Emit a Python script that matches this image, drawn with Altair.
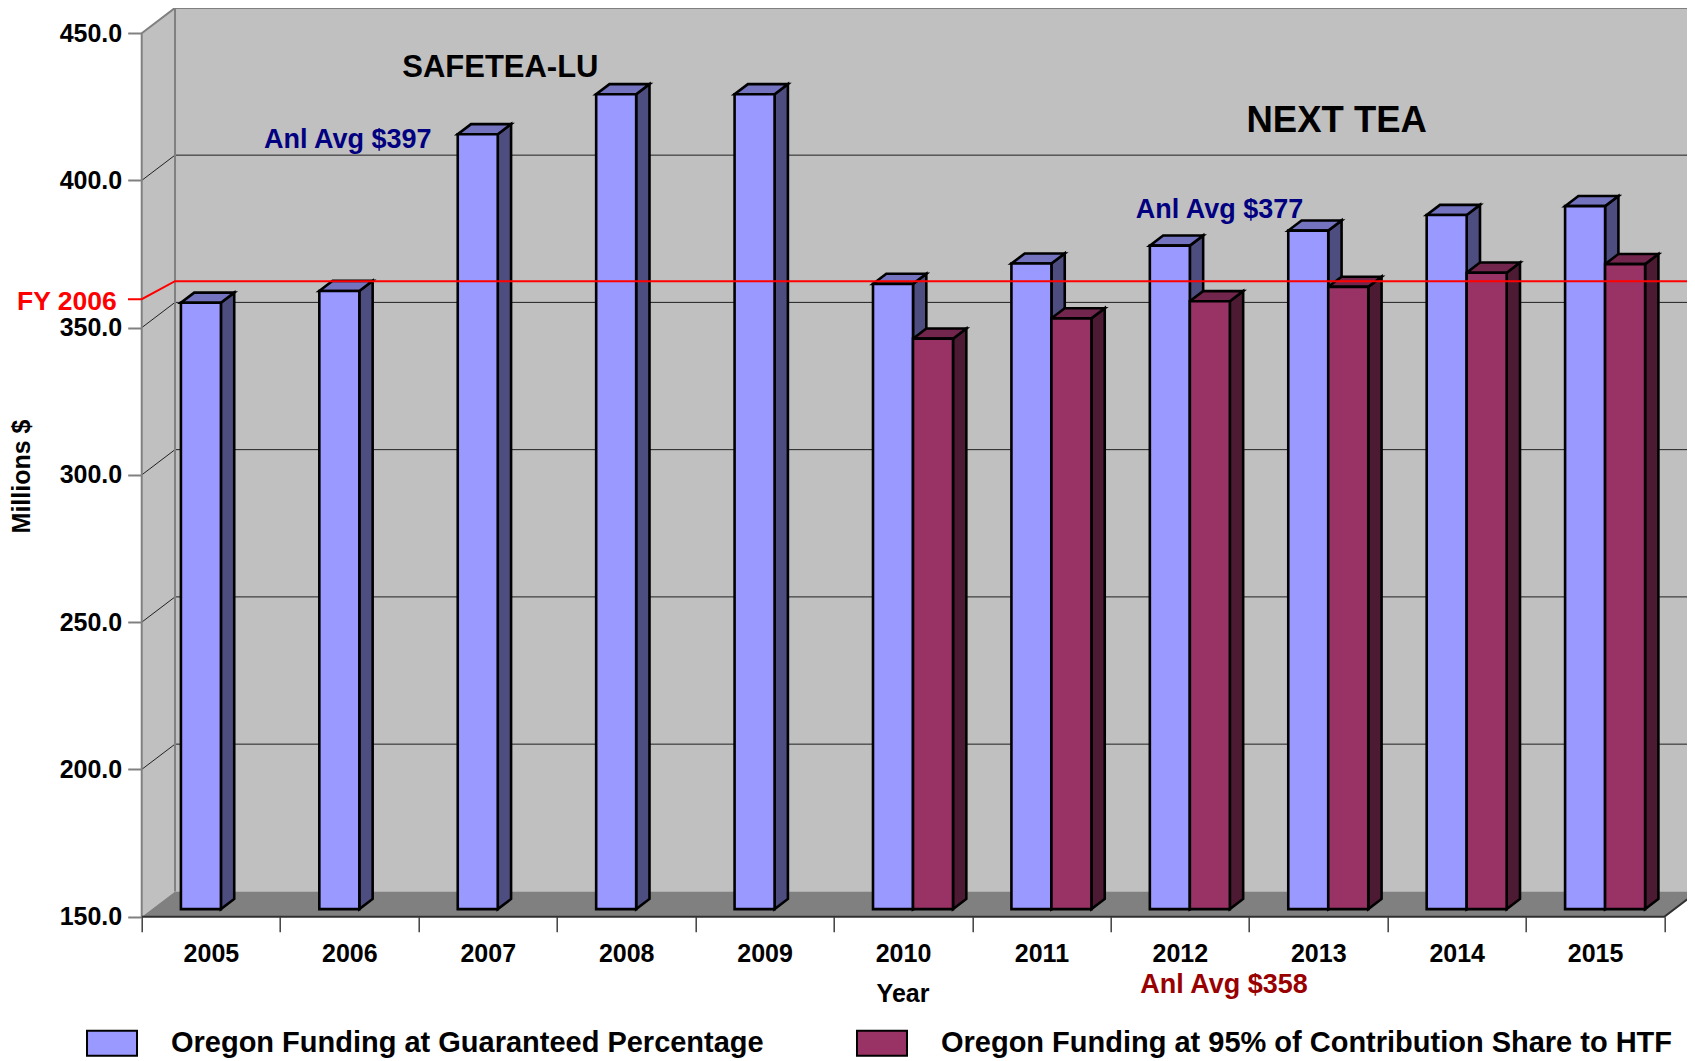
import altair as alt
import pandas as pd

# ---------------- data ----------------
years = list(range(2005, 2016))
guaranteed = [355.9, 359.9, 413.1, 426.7, 426.7, 362.3, 369.2, 375.3, 380.4, 385.7, 388.7]
contribution = [None, None, None, None, None, 343.7, 350.6, 356.4, 361.3, 366.1, 369.0]
series_names = ["Oregon Funding at Guaranteed Percentage",
                "Oregon Funding at 95% of Contribution Share to HTF"]
y_ticks = [150, 200, 250, 300, 350, 400, 450]
fy2006_front_value = 359.7
fy2006_wall_value = 357.2

annot_text = ["SAFETEA-LU", "NEXT TEA", "Anl Avg $397", "Anl Avg $377", "Anl Avg $358"]
annot_cat = [2.591, 8.633, 1.489, 7.787, 7.819]        # category units
annot_val = [435.2, 416.35, 411.1, 387.15, 124.0]       # value units (baseline)
annot_size = [31, 36.5, 27, 27, 27]
annot_color = ["black", "black", "#000080", "#000080", "#990000"]

# ---------------- geometry of the pseudo-3D frame ----------------
PX_PER_CAT = 138.42
PX_PER_VAL = 2.945
W, H = 1545.3, 908.7
X_MAX = W / PX_PER_CAT
Y_MIN = 150
Y_MAX = Y_MIN + H / PX_PER_VAL
WDX = 33.3 / PX_PER_CAT      # depth offset in category units
WDY = 25.3 / PX_PER_VAL      # depth offset in value units
F1, F2 = 0.3, 0.7            # bar depth span
BW = 40 / PX_PER_CAT
NCAT = len(years)
FONT = "Liberation Sans"

xs = alt.Scale(domain=[0, X_MAX], nice=False, zero=False)
ys = alt.Scale(domain=[Y_MIN, Y_MAX], nice=False, zero=False)


def X(f, **kw):
    return alt.X(f, type="quantitative", scale=xs, **kw)


def Y(f, **kw):
    return alt.Y(f, type="quantitative", scale=ys, **kw)


# ---------------- bars ----------------
front, side, top = [], [], []
d = F2 - F1
for s, vals, off in [(0, guaranteed, -BW), (1, contribution, 0.0)]:
    for i, yr in enumerate(years):
        v = vals[i]
        if v is None:
            continue
        bid = f"{s}-{yr}"
        xl = i + 0.5 + off + F1 * WDX
        xr = xl + BW
        base = Y_MIN + F1 * WDY
        tp = v + F1 * WDY
        front.append(dict(series=series_names[s], year=yr, value=v, x=xl, x2=xr, y=base, y2=tp))
        side.append(dict(s=s, id=bid, x=xr, y=tp, y2=base))
        side.append(dict(s=s, id=bid, x=xr + d * WDX, y=tp + d * WDY, y2=base + d * WDY))
        top.append(dict(s=s, id=bid, y=tp, x=xl, x2=xr))
        top.append(dict(s=s, id=bid, y=tp + d * WDY, x=xl + d * WDX, x2=xr + d * WDX))
front = pd.DataFrame(front)
side = pd.DataFrame(side)
top = pd.DataFrame(top)

STROKE = dict(stroke="black", strokeWidth=2.6)

xaxis = alt.Axis(
    values=[k * 0.5 for k in range(2 * NCAT + 1)],
    labelExpr="datum.value % 1 == 0 ? '' : '' + (" + str(years[0] - 0.5) + " + datum.value)",
    tickOpacity={"condition": {"test": "datum.value % 1 == 0", "value": 1}, "value": 0},
    tickSize=15, tickWidth=1.5, tickColor="#404040",
    domain=False, grid=False, labelOverlap=False, labelFlush=False,
    labelFont=FONT, labelFontSize=25, labelFontWeight="bold", labelColor="black",
    labelPadding=10,
    title="Year", titleFont=FONT, titleFontSize=25, titleFontWeight="bold",
    titleX=760.8, titleY=85, titleBaseline="alphabetic", titleAlign="center",
)
yaxis = alt.Axis(
    values=y_ticks, format=".1f",
    tickSize=14, tickWidth=2, tickColor="#808080",
    domain=False, grid=False, labelOverlap=False, labelFlush=False,
    labelFont=FONT, labelFontSize=25, labelFontWeight="bold", labelColor="black",
    labelPadding=6,
    title="Millions $", titleFont=FONT, titleFontSize=25, titleFontWeight="bold",
    titleX=-120, titleY=468, titleBaseline="middle", titleAlign="center", titleAngle=270,
)

# back wall (carries the axes)
wall = pd.DataFrame([dict(x=WDX, x2=NCAT + WDX, y=Y_MIN + WDY, y2=y_ticks[-1] + WDY)])
back_wall = alt.Chart(wall).mark_rect(color="#c0c0c0").encode(
    x=alt.X("x:Q", scale=xs, axis=xaxis), x2="x2:Q",
    y=alt.Y("y:Q", scale=ys, axis=yaxis), y2="y2:Q")

side_wall_df = pd.DataFrame([
    dict(x=0, y=y_ticks[-1], y2=Y_MIN),
    dict(x=WDX, y=y_ticks[-1] + WDY, y2=Y_MIN + WDY)])
side_wall = alt.Chart(side_wall_df).mark_area(color="#c0c0c0").encode(
    x=X("x"), y=Y("y"), y2="y2")

floor_df = pd.DataFrame([
    dict(y=Y_MIN, x=0, x2=NCAT),
    dict(y=Y_MIN + WDY, x=WDX, x2=NCAT + WDX)])
floor = alt.Chart(floor_df).mark_area(color="#808080", orient="horizontal").encode(
    y=Y("y"), x=X("x"), x2="x2")

# gridlines
inner = y_ticks[1:-1]
back_grid = alt.Chart(pd.DataFrame(dict(v=[t + WDY for t in inner]))).mark_rule(
    color="#202020", strokeWidth=1).encode(
    x=alt.datum(WDX, scale=xs), x2=alt.datum(NCAT + WDX), y=Y("v"))
sg = []
for t in inner:
    sg.append(dict(g=t, x=0, y=t))
    sg.append(dict(g=t, x=WDX, y=t + WDY))
side_grid = alt.Chart(pd.DataFrame(sg)).mark_line(color="#202020", strokeWidth=1).encode(
    x=X("x"), y=Y("y"), detail="g:N")

# frame edges
edges = pd.DataFrame([
    dict(e="top", o=0, x=0, y=y_ticks[-1]),
    dict(e="top", o=1, x=WDX, y=y_ticks[-1] + WDY),
    dict(e="top", o=2, x=NCAT + 2 * WDX, y=y_ticks[-1] + WDY),
    dict(e="back", o=0, x=WDX, y=Y_MIN + WDY),
    dict(e="back", o=1, x=WDX, y=y_ticks[-1] + WDY),
    dict(e="front", o=0, x=0, y=Y_MIN),
    dict(e="front", o=1, x=0, y=y_ticks[-1]),
])
gray_edges = alt.Chart(edges).mark_line(color="#808080", strokeWidth=2).encode(
    x=X("x"), y=Y("y"), detail="e:N", order="o:Q")
floor_edge_df = pd.DataFrame([
    dict(o=0, x=0, y=Y_MIN), dict(o=1, x=NCAT, y=Y_MIN),
    dict(o=2, x=NCAT + WDX, y=Y_MIN + WDY)])
floor_edge = alt.Chart(floor_edge_df).mark_line(color="#303030", strokeWidth=2).encode(
    x=X("x"), y=Y("y"), order="o:Q")

# bar faces
side_colors = ["#4d4d80", "#4d1a33"]
top_colors = ["#7373bf", "#73264d"]
layers_faces = []
for s in (0, 1):
    layers_faces.append(alt.Chart(side[side.s == s]).mark_area(color=side_colors[s], **STROKE).encode(
        x=X("x"), y=Y("y"), y2="y2", detail="id:N"))
for s in (0, 1):
    layers_faces.append(alt.Chart(top[top.s == s]).mark_area(
        color=top_colors[s], orient="horizontal", **STROKE).encode(
        y=Y("y"), x=X("x"), x2="x2", detail="id:N"))

fronts = alt.Chart(front).mark_rect(**STROKE).encode(
    x=X("x"), x2="x2", y=Y("y"), y2="y2",
    color=alt.Color("series:N", sort=series_names,
                    scale=alt.Scale(domain=series_names, range=["#9999ff", "#993366"]),
                    legend=alt.Legend(
                        title=None, orient="none", direction="horizontal",
                        legendX=-55.7, legendY=1009, padding=0,
                        symbolType="M-1,-0.5H1V0.5H-1Z", symbolSize=2500,
                        symbolStrokeColor="black", symbolStrokeWidth=2, symbolOpacity=1,
                        labelFont=FONT, labelFontSize=29, labelFontWeight="bold",
                        labelColor="black", labelLimit=2000, labelOffset=33,
                        columnPadding=89)),
)

# FY 2006 reference line
fy_df = pd.DataFrame([
    dict(o=0, x=-13.7 / PX_PER_CAT, y=fy2006_front_value),
    dict(o=1, x=0, y=fy2006_front_value),
    dict(o=2, x=WDX, y=fy2006_wall_value + WDY),
    dict(o=3, x=NCAT + 2 * WDX, y=fy2006_wall_value + WDY)])
fy_line = alt.Chart(fy_df).mark_line(color="#ff0000", strokeWidth=2).encode(
    x=X("x"), y=Y("y"), order="o:Q")
fy_text = alt.Chart(pd.DataFrame([dict(x=-25 / PX_PER_CAT, y=356.0, t="FY 2006")])).mark_text(
    font=FONT, fontSize=26.5, fontWeight="bold", color="#ff0000", align="right",
    baseline="alphabetic").encode(x=X("x"), y=Y("y"), text="t:N")

texts = []
for t, c, v, sz, col in zip(annot_text, annot_cat, annot_val, annot_size, annot_color):
    texts.append(alt.Chart(pd.DataFrame([dict(x=c, y=v, t=t)])).mark_text(
        font=FONT, fontSize=sz, fontWeight="bold", color=col, align="center",
        baseline="alphabetic").encode(x=X("x"), y=Y("y"), text="t:N"))

chart = alt.layer(
    back_wall, side_wall, floor, back_grid, side_grid, gray_edges, floor_edge,
    *layers_faces, fronts, fy_line, fy_text, *texts
).properties(
    width=W, height=H,
    autosize=alt.AutoSizeParams(type="none"),
    padding={"left": 133.7, "top": 0, "right": 0, "bottom": 145},
    background="white",
).configure(font=FONT).configure_view(strokeWidth=0)

chart.save("out.html", embed_options={"renderer": "svg", "actions": False})
